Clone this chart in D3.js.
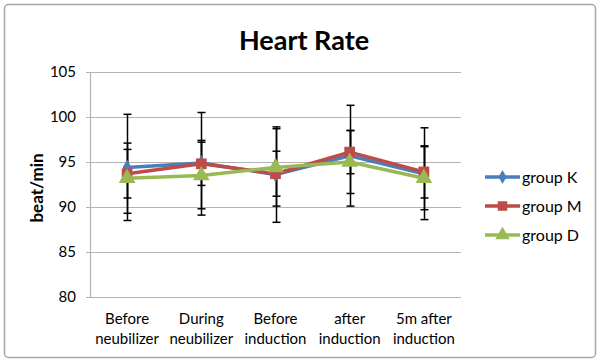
<!DOCTYPE html>
<html>
<head>
<meta charset="utf-8">
<script src="https://cdn.jsdelivr.net/npm/d3@7"></script>
<style>
  body { margin: 0; background: #fff; }
  svg text { font-family: Lato, "Open Sans", sans-serif; }
</style>
</head>
<body>
<svg id="chart" width="600" height="362"></svg>
<script>
const categories = ["Before\nneubilizer", "During\nneubilizer", "Before\ninduction", "after\ninduction", "5m after\ninduction"];
const seriesNames = ["group K", "group M", "group D"];
const groupK = [94.4, 94.9, 93.6, 95.7, 93.7];
const groupM = [93.7, 94.8, 93.7, 96.1, 93.9];
const groupD = [93.2, 93.5, 94.4, 95.0, 93.2];
const errK = [5.9, 2.5, 5.3, 5.6, 5.1];
const errM = [2.7, 5.7, 2.5, 2.4, 2.9];
const errD = [3.9, 3.7, 4.3, 3.5, 3.5];
const yTicks = [80, 85, 90, 95, 100, 105];
const colors = ["#4a7ebb", "#be4b48", "#98b954"];
const shapes = [d3.symbolDiamond, d3.symbolSquare, d3.symbolTriangle];

const series = [
  {name: seriesNames[0], values: groupK, err: errK},
  {name: seriesNames[1], values: groupM, err: errM},
  {name: seriesNames[2], values: groupD, err: errD}
];

const svg = d3.select("#chart");

// outer border
svg.append("rect").attr("x", 4.5).attr("y", 4.5).attr("width", 591).attr("height", 353)
  .attr("rx", 4).attr("fill", "#fff").attr("stroke", "#a6a6a6").attr("stroke-width", 1.5);

const pLeft = 90, pRight = 461, pTop = 72, pBottom = 297;
const x = d3.scaleBand().domain(categories).range([pLeft, pRight]);
const y = d3.scaleLinear().domain([80, 105]).range([pBottom, pTop]);
const cx = d => x(d) + x.bandwidth() / 2;

// gridlines
svg.append("g").selectAll("line").data(yTicks).join("line")
  .attr("x1", pLeft - 4).attr("x2", pRight)
  .attr("y1", d => Math.round(y(d)) + 0.5).attr("y2", d => Math.round(y(d)) + 0.5)
  .attr("stroke", "#b3b3b3").attr("stroke-width", 1.2);

// y axis line
svg.append("line").attr("x1", pLeft + 0.5).attr("x2", pLeft + 0.5).attr("y1", pTop).attr("y2", pBottom)
  .attr("stroke", "#b3b3b3").attr("stroke-width", 1.2);

// y tick labels
svg.append("g").selectAll("text").data(yTicks).join("text")
  .attr("x", 76).attr("y", d => y(d)).attr("dy", "0.35em").attr("text-anchor", "end")
  .attr("font-size", 15).attr("fill", "#000").text(d => d);

// y axis title
svg.append("text").attr("transform", "translate(43,188) rotate(-90)")
  .attr("text-anchor", "middle").attr("font-size", 17).attr("font-weight", "bold").text("beat/min");

// x labels
const xl = svg.append("g").selectAll("text").data(categories).join("text")
  .attr("text-anchor", "middle").attr("font-size", 15).attr("fill", "#000");
xl.each(function(d) {
  const t = d3.select(this);
  d.split("\n").forEach((ln, i) => {
    t.append("tspan").attr("x", cx(d)).attr("y", 324 + i * 20).text(ln);
  });
});

// title
svg.append("text").attr("x", 304).attr("y", 50).attr("text-anchor", "middle")
  .attr("font-size", 27).attr("font-weight", "bold").text("Heart Rate");

// error bars
const eb = svg.append("g").attr("stroke", "#000").attr("stroke-width", 1.5);
series.forEach(s => {
  categories.forEach((c, i) => {
    const v = s.values[i], e = s.err[i];
    const px = Math.round(cx(c)) + 0.5;
    eb.append("line").attr("x1", px).attr("x2", px).attr("y1", y(v + e)).attr("y2", y(v - e));
    [v + e, v - e].forEach(w => {
      eb.append("line").attr("x1", px - 4).attr("x2", px + 4).attr("y1", y(w)).attr("y2", y(w));
    });
  });
});

// lines and markers
const line = d3.line().x((d, i) => cx(categories[i])).y(d => y(d));
series.forEach((s, k) => {
  svg.append("path").datum(s.values).attr("d", line).attr("fill", "none")
    .attr("stroke", colors[k]).attr("stroke-width", 3.5).attr("stroke-linejoin", "round");
  const sizes = [70, 115, 120];
  svg.append("g").selectAll("path").data(s.values).join("path")
    .attr("transform", (d, i) => `translate(${cx(categories[i])},${y(d)})`)
    .attr("d", d3.symbol().type(shapes[k]).size(sizes[k]))
    .attr("fill", colors[k]);
});

// legend
const legY = [177, 206, 235];
series.forEach((s, k) => {
  const g = svg.append("g").attr("transform", `translate(0,${legY[k]})`);
  g.append("line").attr("x1", 485).attr("x2", 520).attr("y1", 0).attr("y2", 0)
    .attr("stroke", colors[k]).attr("stroke-width", 3.5);
  g.append("path").attr("transform", "translate(502.5,0)")
    .attr("d", d3.symbol().type(shapes[k]).size([55, 90, 90][k])).attr("fill", colors[k]);
  g.append("text").attr("x", 522).attr("y", 0).attr("dy", "0.35em").attr("font-size", 16).text(s.name);
});
</script>
</body>
</html>
